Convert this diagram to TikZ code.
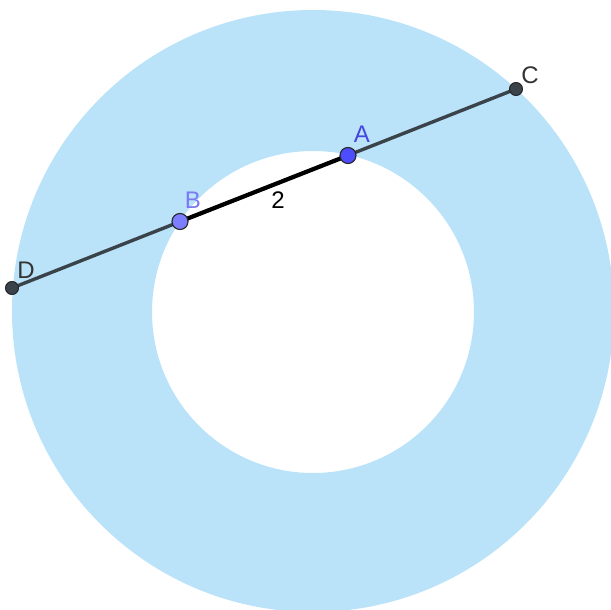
\documentclass[tikz,border=0pt]{standalone}
\usepackage{fontspec}
\setmainfont{Liberation Sans}
\definecolor{ringblue}{HTML}{BAE3FA}
\definecolor{linegrey}{HTML}{3A434A}
\definecolor{ptdark}{HTML}{4D4DFF}
\definecolor{ptlight}{HTML}{7D7DFF}
\definecolor{labA}{HTML}{4545E0}
\definecolor{labB}{HTML}{7A7AF5}
\definecolor{labgrey}{HTML}{333333}
\begin{document}
\begin{tikzpicture}[x=1pt,y=-1pt,
  pt/.style={circle,draw=black!85,line width=1.1pt,inner sep=0pt,minimum size=16pt},
  greypt/.style={circle,draw=black!85,fill=linegrey,line width=1pt,inner sep=0pt,minimum size=13pt},
  lab/.style={font=\fontsize{24}{24}\selectfont,inner sep=1pt}]
\useasboundingbox (0,0) rectangle (611,610);
\begin{scope}
\clip (0,0) rectangle (611,610);
\fill[ringblue,even odd rule] (313,311) circle[radius=301] (313,312) circle[radius=161];
\end{scope}
\coordinate (Dc) at (12,288);
\coordinate (Cc) at (516,89);
\coordinate (Ac) at (348,155.5);
\coordinate (Bc) at (180,221.5);
\draw[linegrey,line width=3.4pt] (Dc) -- (Cc);
\draw[black,line width=4.2pt] (Bc) -- (Ac);
\node[greypt] (D) at (Dc) {};
\node[greypt] (C) at (Cc) {};
\node[pt,fill=ptdark] (A) at (Ac) {};
\node[pt,fill=ptlight] (B) at (Bc) {};
\node[lab,text=labgrey] (Cl) at (530,75) {C};
\node[lab,text=labgrey] (Dl) at (26,270.5) {D};
\node[lab,text=labA] (Al) at (362,134.5) {A};
\node[lab,text=labB] (Bl) at (193,200.5) {B};
\node[lab,text=black] (two) at (278,200.5) {2};
\end{tikzpicture}
\end{document}
